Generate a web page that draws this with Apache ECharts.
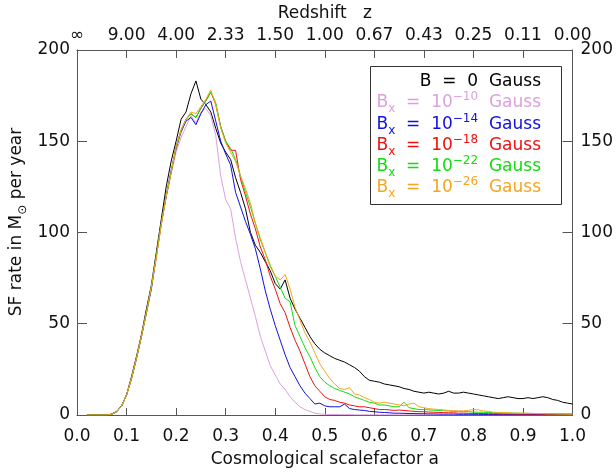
<!DOCTYPE html>
<html>
<head>
<meta charset="utf-8">
<script src="https://cdn.jsdelivr.net/npm/echarts@6/dist/echarts.min.js"></script>
<style>
html, body { margin: 0; padding: 0; background: #fff; }
#chart { width: 616px; height: 473px; }
</style>
</head>
<body>
<div id="chart"></div>
<script>
// scalefactor a, one point every 0.01
const scaleFactor = [
  0.02, 0.03, 0.04, 0.05, 0.06, 0.07, 0.08, 0.09, 0.10, 0.11,
  0.12, 0.13, 0.14, 0.15, 0.16, 0.17, 0.18, 0.19, 0.20, 0.21,
  0.22, 0.23, 0.24, 0.25, 0.26, 0.27, 0.28, 0.29, 0.30, 0.31,
  0.32, 0.33, 0.34, 0.35, 0.36, 0.37, 0.38, 0.39, 0.40, 0.41,
  0.42, 0.43, 0.44, 0.45, 0.46, 0.47, 0.48, 0.49, 0.50, 0.51,
  0.52, 0.53, 0.54, 0.55, 0.56, 0.57, 0.58, 0.59, 0.60, 0.61,
  0.62, 0.63, 0.64, 0.65, 0.66, 0.67, 0.68, 0.69, 0.70, 0.71,
  0.72, 0.73, 0.74, 0.75, 0.76, 0.77, 0.78, 0.79, 0.80, 0.81,
  0.82, 0.83, 0.84, 0.85, 0.86, 0.87, 0.88, 0.89, 0.90, 0.91,
  0.92, 0.93, 0.94, 0.95, 0.96, 0.97, 0.98, 0.99, 1.00
];

// top axis labels (redshift at a = 0.0 ... 1.0)
const redshiftLabels = ["∞", "9.00", "4.00", "2.33", "1.50", "1.00", "0.67", "0.43", "0.25", "0.11", "0.00"];

// SF rate in Msun / yr
const sfrB0 = [
  0, 0, 0, 0, 0, 0.5, 2, 5, 11, 21,
  32, 44, 58, 71, 89, 107, 125, 139, 150, 162,
  166, 176, 183, 173, 170, 166, 157, 149, 144, 140,
  130, 122, 113, 100, 93, 89, 84, 79, 72, 69,
  74, 64, 58, 53, 48, 43, 39, 36, 34, 32.5,
  31, 30, 29, 27.5, 26, 24, 21, 19, 18.5, 18,
  17, 16.5, 16, 15.5, 14.5, 14, 13, 12.5, 12, 12.5,
  12, 11.5, 12, 13, 12, 12, 12.5, 12, 11.5, 11,
  10.5, 10, 9.5, 9, 9.5, 10, 9.5, 9, 9, 9.5,
  9, 9.5, 10, 9.5, 8.5, 8, 7, 6.5, 6
];
const sfrB10 = [
  0, 0, 0, 0, 0, 0.4, 1.8, 5, 11, 20,
  31, 43, 56, 69, 87, 104, 119, 132, 144, 152,
  158, 164, 160, 166, 168, 164, 153, 131, 118, 113,
  97, 84, 74, 64, 54, 43, 35, 27, 22, 17,
  14, 10, 7, 4.5, 3, 2, 1, 0.6, 0.4, 0.3,
  0.3, 0.2, 0.2, 0.2, 0.1, 0.1, 0.1, 0.1, 0.1, 0.1,
  0.1, 0.1, 0.1, 0.1, 0.1, 0.1, 0.1, 0.1, 0.1, 0.1,
  0.1, 0.1, 0.1, 0.1, 0.1, 0.1, 0.1, 0.1, 0.1, 0.1,
  0.1, 0.1, 0.1, 0.1, 0.1, 0.1, 0.1, 0.1, 0.1, 0.1,
  0.1, 0.1, 0.1, 0.1, 0.1, 0.1, 0.1, 0.1, 0.1
];
const sfrB14 = [
  0, 0, 0, 0, 0, 0.4, 1.8, 5, 11, 20,
  31, 43, 56, 69, 87, 105, 120, 134, 146, 155,
  161, 163, 159, 165, 170, 172, 161, 150, 143, 137,
  122, 114, 106, 99, 91, 80, 68, 58, 49, 41,
  33, 26, 21, 16, 12, 9, 6, 6.5, 5, 4.5,
  4.5, 4.5, 6, 3.5, 3, 2.7, 2.5, 2, 1.8, 1.5,
  1.4, 1.2, 1, 1, 0.9, 0.8, 0.8, 0.7, 0.7, 0.6,
  0.6, 0.5, 0.5, 0.5, 0.5, 0.4, 0.4, 0.4, 0.4, 0.4,
  0.3, 0.3, 0.3, 0.3, 0.3, 0.3, 0.3, 0.3, 0.3, 0.3,
  0.3, 0.3, 0.3, 0.3, 0.3, 0.3, 0.3, 0.3, 0.3
];
const sfrB18 = [
  0, 0, 0, 0, 0, 0.4, 1.8, 5, 11, 20,
  31, 43, 56, 70, 87, 105, 120, 133, 147, 156,
  162, 165, 163, 168, 172, 177, 170, 158, 150, 145,
  145, 129, 120, 110, 102, 92, 85, 76, 69, 61,
  56, 48, 41, 35, 28, 21, 16, 13, 10, 8.5,
  8, 7, 6.5, 5.5, 5, 4.5, 4.5, 4, 3.5, 3,
  3, 2.8, 2.5, 2.7, 2.5, 2.2, 2, 1.8, 1.8, 1.6,
  1.5, 1.4, 1.3, 1.2, 1.2, 1, 1, 0.9, 0.9, 0.8,
  0.8, 0.7, 0.7, 0.7, 0.6, 0.6, 0.6, 0.5, 0.5, 0.5,
  0.5, 0.5, 0.4, 0.4, 0.4, 0.4, 0.4, 0.4, 0.4
];
const sfrB22 = [
  0, 0, 0, 0, 0, 0.4, 1.8, 5, 11, 20,
  31, 43, 56, 70, 87, 105, 120, 133, 147, 156,
  162, 165, 163, 168, 172, 177, 171, 158, 150, 146,
  140, 131, 122, 114, 105, 96, 89, 82, 76, 70,
  64, 62, 49, 43, 37, 32, 26, 21, 18, 16,
  14.5, 13.5, 12.5, 11.5, 10, 9, 8, 7, 6.5, 5.5,
  5.5, 5, 4.5, 4.5, 7, 4, 3.5, 3, 3, 2.8,
  2.6, 2.5, 2.3, 2.2, 2, 2, 1.8, 1.8, 1.6, 1.5,
  1.5, 1.4, 1.3, 1.2, 1.2, 1.1, 1, 1, 0.9, 0.9,
  0.8, 0.8, 0.8, 0.7, 0.7, 0.7, 0.6, 0.6, 0.6
];
const sfrB26 = [
  0, 0, 0, 0, 0, 0.4, 1.8, 5, 11, 20,
  31, 43, 56, 70, 86, 104, 120, 133, 147, 156,
  162, 166, 165, 169, 173, 178, 170, 157, 149, 144,
  139, 131, 124, 116, 105, 97, 89, 81, 76, 74,
  77, 69, 59, 52, 45, 40, 34, 28, 24, 20,
  17, 14.5, 14, 15, 11.5, 11, 9.5, 8.5, 7, 6.5,
  7, 6.5, 6, 5.5, 5, 6, 6.5, 4.5, 4, 3.5,
  3.2, 3, 2.8, 2.5, 2.4, 2.2, 2.3, 2.5, 3, 2.8,
  2.2, 2, 1.5, 1.4, 1.3, 1.2, 1.1, 1, 1, 0.9,
  0.9, 0.8, 0.8, 0.7, 0.7, 0.6, 0.6, 0.5, 0.5
];

const font = "DejaVu Sans";
const axisColor = "#555";
const textColor = "#111";

const runs = [
  { name: "B = 0", data: sfrB0, color: "#000000" },
  { name: "1e-10", data: sfrB10, color: "#dda0dd" },
  { name: "1e-14", data: sfrB14, color: "#1010e0" },
  { name: "1e-18", data: sfrB18, color: "#ee1111" },
  { name: "1e-22", data: sfrB22, color: "#11dd11" },
  { name: "1e-26", data: sfrB26, color: "#f5a520" },
];

const chart = echarts.init(document.getElementById("chart"));

const tick = { show: true, inside: true, lineStyle: { color: axisColor, width: 1 } };
const line = { show: true, onZero: false, lineStyle: { color: axisColor, width: 1 } };
const lbl = { color: textColor, fontSize: 17, fontFamily: font };

// legend rows (rich text for sub/superscripts)
const rich = {
  n: { fontSize: 17, fontFamily: font },
  sub: { fontSize: 12, fontFamily: font, padding: [11, 0, 0, 0] },
  sup: { fontSize: 12, fontFamily: font, padding: [0, 0, 13, 0] },
};
const legendRows = [
  { text: "{n|B  =  0  Gauss}", color: runs[0].color },
  { text: "{n|B}{sub|x}{n|  =  10}{sup|−10}{n|  Gauss}", color: runs[1].color },
  { text: "{n|B}{sub|x}{n|  =  10}{sup|−14}{n|  Gauss}", color: runs[2].color },
  { text: "{n|B}{sub|x}{n|  =  10}{sup|−18}{n|  Gauss}", color: runs[3].color },
  { text: "{n|B}{sub|x}{n|  =  10}{sup|−22}{n|  Gauss}", color: runs[4].color },
  { text: "{n|B}{sub|x}{n|  =  10}{sup|−26}{n|  Gauss}", color: runs[5].color },
];
const legendY = [82, 103, 125, 146, 167, 188];

const graphics = [
  {
    type: "rect",
    shape: { x: 370.5, y: 66.5, width: 191, height: 138 },
    style: { fill: "#fff", stroke: "#333", lineWidth: 1 },
    z: 10,
  },
  {
    type: "text",
    x: 17,
    y: 222,
    rotation: Math.PI / 2,
    style: {
      text: "{n|SF rate in M}{sub|⊙}{n| per year}",
      rich: rich,
      fill: textColor,
      align: "center",
      verticalAlign: "middle",
    },
  },
];
legendRows.forEach((r, i) => {
  graphics.push({
    type: "text",
    x: 541,
    y: legendY[i],
    z: 11,
    style: {
      text: r.text,
      rich: rich,
      fill: r.color,
      align: "right",
      verticalAlign: "middle",
    },
  });
});

chart.setOption({
  animation: false,
  backgroundColor: "#fff",
  grid: { left: 77, right: 42, top: 46, bottom: 58 },
  xAxis: [
    {
      type: "value",
      position: "bottom",
      min: 0,
      max: 1,
      interval: 0.1,
      axisLine: line,
      axisTick: Object.assign({ length: 7 }, tick),
      axisLabel: Object.assign({ margin: 13, formatter: (v) => v.toFixed(1) }, lbl),
      splitLine: { show: false },
      name: "Cosmological scalefactor a",
      nameLocation: "middle",
      nameGap: 36,
      nameTextStyle: lbl,
    },
    {
      type: "value",
      position: "top",
      min: 0,
      max: 1,
      interval: 0.1,
      axisLine: line,
      axisTick: Object.assign({ length: 8 }, tick),
      axisLabel: Object.assign({ margin: 6, formatter: (v) => redshiftLabels[Math.round(v * 10)] }, lbl),
      splitLine: { show: false },
      name: "Redshift   z",
      nameLocation: "middle",
      nameGap: 26,
      nameTextStyle: lbl,
    },
  ],
  yAxis: [
    {
      type: "value",
      position: "left",
      min: 0,
      max: 200,
      interval: 50,
      axisLine: line,
      axisTick: Object.assign({ length: 10 }, tick),
      axisLabel: Object.assign({ margin: 7 }, lbl),
      splitLine: { show: false },
    },
    {
      type: "value",
      position: "right",
      min: 0,
      max: 200,
      interval: 50,
      axisLine: line,
      axisTick: Object.assign({ length: 10 }, tick),
      axisLabel: Object.assign({ margin: 8 }, lbl),
      splitLine: { show: false },
    },
  ],
  series: runs.map((r) => ({
    name: r.name,
    type: "line",
    xAxisIndex: 0,
    yAxisIndex: 0,
    showSymbol: false,
    symbol: "none",
    lineStyle: { color: r.color, width: 1 },
    itemStyle: { color: r.color },
    data: scaleFactor.map((a, i) => [a, r.data[i]]),
  })),
  graphic: graphics,
});
</script>
</body>
</html>
